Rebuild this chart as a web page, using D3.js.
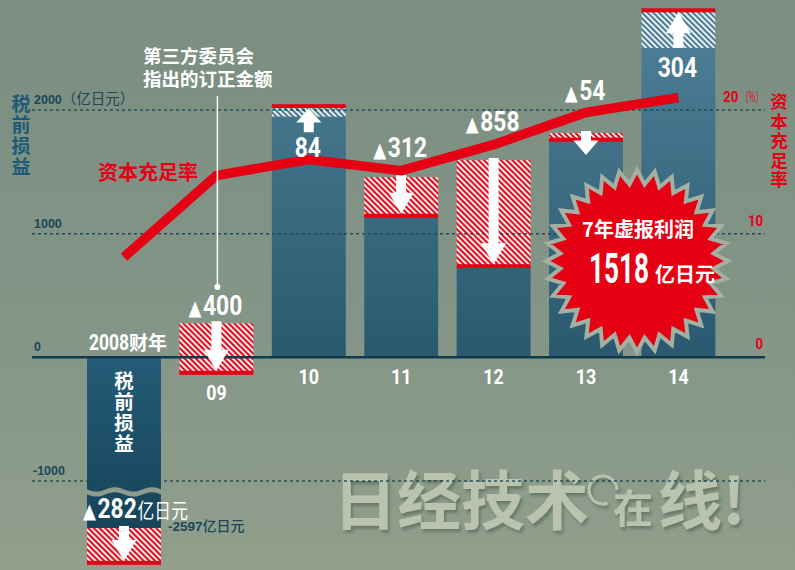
<!DOCTYPE html>
<html><head><meta charset="utf-8">
<script src="https://cdn.jsdelivr.net/npm/d3@7"></script>
<style>html,body{margin:0;padding:0;overflow:hidden;background:#85978a}</style>
</head><body><svg id="chart" width="795" height="570"></svg>
<script>
// ---------- data ----------
const categories = ["2008","09","10","11","12","13","14"];
const reportedProfit = [-2315, 275, 1947, 1457, 1595, 1814, 2502];   // 亿日元, as originally reported
const correctedProfit = [-2597, -125, 2031, 1145, 737, 1760, 2806];  // after third-party correction
const correctionLabels = ["▲282","▲400","84","▲312","▲858","▲54","304"];
const capitalRatio = [8.1, 14.7, 16.0, 15.1, 17.2, 19.8, 21.0];      // %
const leftTicks = [-1000, 0, 1000, 2000];
const rightTicks = [0, 10, 20];
const totalOverstated = "1518";
const firstYearLabel = "2008财年";
const axisBreakBelow = -1060, axisBreakHidden = 935;

// ---------- layout ----------
const NUM = "Roboto,'Liberation Sans',sans-serif";
const CJK = "'Noto Sans CJK SC','Noto Sans',sans-serif";
const RED = "#e60014";
const DARK = "#1b4757";
const svg = d3.select("#chart");
const defs = svg.append("defs");

const x = d3.scaleBand().domain(categories).range([77.8, 724.6]).paddingInner(0.2).paddingOuter(0.1);
const y = d3.scaleLinear().domain([-1000, 2000]).range([481, 110]);
const yR = d3.scaleLinear().domain([0, 20]).range([y(0), y(2000)]);
const disp = v => v < axisBreakBelow ? v + axisBreakHidden : v;
const bw = x.bandwidth();
const cx = c => x(c) + bw / 2;

function narrow(parent, px, py, sx, anchor) {
  return parent.append("g").attr("transform", `translate(${px},${py}) scale(${sx},1)`)
    .append("text").attr("text-anchor", anchor || "start");
}

// gradients & patterns
function lg(id, y1, y2, stops) {
  const g = defs.append("linearGradient").attr("id", id).attr("gradientUnits", "userSpaceOnUse")
    .attr("x1", 0).attr("x2", 0).attr("y1", y1).attr("y2", y2);
  stops.forEach(([o, c]) => g.append("stop").attr("offset", o).attr("stop-color", c));
}
lg("bg", 0, 570, [[0, "#7a8e81"], [0.55, "#839587"], [1, "#919f8c"]]);
lg("barGrad", 0, 357, [[0, "#508299"], [1, "#2a596f"]]);
lg("barGrad08", 357, 530, [[0, "#245b76"], [1, "#164459"]]);
function hatch(id, c1, c2) {
  const p = defs.append("pattern").attr("id", id).attr("patternUnits", "userSpaceOnUse")
    .attr("width", 4).attr("height", 4).attr("patternTransform", "rotate(-45)");
  p.append("rect").attr("width", 4).attr("height", 4).attr("fill", c2);
  p.append("rect").attr("width", 2).attr("height", 4).attr("fill", c1);
}
hatch("hatchRed", "#e8091f", "#f6ebe7");
hatch("hatchBlue", "#4a7c93", "#e8eef0");
const f = defs.append("filter").attr("id", "wmShadow").attr("x", "-10%").attr("y", "-10%").attr("width", "130%").attr("height", "130%");
f.append("feDropShadow").attr("dx", 2).attr("dy", 3).attr("stdDeviation", 1.6).attr("flood-color", "#3e4d42").attr("flood-opacity", 0.45);

// background
svg.append("rect").attr("width", 795).attr("height", 570).attr("fill", "url(#bg)");

// watermark
const WM = "#b9c3ae";
const wm = svg.append("g").attr("filter", "url(#wmShadow)").attr("fill", WM).attr("font-family", CJK).attr("font-weight", 700);
wm.append("text").attr("x", 333).attr("y", 524).attr("font-size", 64).text("日经技术");
const ring = d3.path();
ring.arc(603, 490, 14, 1.25, 2 * Math.PI, false);
wm.append("path").attr("d", ring.toString()).attr("fill", "none").attr("stroke", WM).attr("stroke-width", 3);
wm.append("text").attr("x", 613).attr("y", 523).attr("font-size", 40).text("在");
wm.append("text").attr("x", 658).attr("y", 524).attr("font-size", 64).text("线!");

// bars
const gBars = svg.append("g");
categories.forEach((c, i) => {
  const rep = reportedProfit[i], cor = correctedProfit[i];
  const r = disp(rep), k = disp(cor);
  const x0 = x(c);
  if (Math.sign(rep) === Math.sign(cor)) {
    const keep = Math.abs(rep) < Math.abs(cor) ? r : k;
    gBars.append("rect").attr("x", x0).attr("width", bw)
      .attr("y", Math.min(y(0), y(keep))).attr("height", Math.abs(y(keep) - y(0)))
      .attr("fill", i === 0 ? "url(#barGrad08)" : "url(#barGrad)");
  }
  gBars.append("rect").attr("x", x0).attr("width", bw)
    .attr("y", Math.min(y(r), y(k))).attr("height", Math.abs(y(r) - y(k)))
    .attr("fill", cor < rep ? "url(#hatchRed)" : "url(#hatchBlue)");
  gBars.append("rect").attr("x", x0).attr("width", bw).attr("y", y(k) - 2).attr("height", 4).attr("fill", RED);
});
// axis-break wave on the 2008 bar
(function () {
  const x0 = x(categories[0]), yb = y(axisBreakBelow) + 1, amp = 2.2, per = bw / 2;
  const pts = d3.range(0, bw + 0.5, 1).map(t => [x0 + t, yb + amp * Math.sin(2 * Math.PI * t / per)]);
  const top = pts.map(p => p.join(",")).join("L");
  const bot = pts.slice().reverse().map(p => [p[0], p[1] + 5].join(",")).join("L");
  gBars.append("path").attr("d", "M" + top + "L" + bot + "Z").attr("fill", "url(#bg)");
})();

// gridlines and baseline
const gGrid = svg.append("g");
leftTicks.filter(t => t !== 0).forEach(t => {
  gGrid.append("line").attr("x1", 32).attr("x2", 765).attr("y1", y(t)).attr("y2", y(t))
    .attr("stroke", DARK).attr("stroke-width", 1.5).attr("stroke-dasharray", "3,3").attr("opacity", 0.9);
});
gGrid.append("line").attr("x1", 32).attr("x2", 765).attr("y1", y(0)).attr("y2", y(0))
  .attr("stroke", "#10394a").attr("stroke-width", 2.5);

// arrows
function arrowPath(xc, tail, tip) {
  const dir = Math.sign(tip - tail), len = Math.abs(tip - tail);
  const head = Math.min(21, len * 0.6), hb = tip - dir * head;
  return `M${xc - 5},${tail}L${xc + 5},${tail}L${xc + 5},${hb}L${xc + 12.5},${hb}L${xc},${tip}L${xc - 12.5},${hb}L${xc - 5},${hb}Z`;
}
const gArr = svg.append("g").attr("fill", "#ffffff");
categories.forEach((c, i) => {
  const r = disp(reportedProfit[i]), k = disp(correctedProfit[i]);
  const down = k < r;
  let tail = down ? y(r) - 2 : y(r), tip = down ? y(k) - 2 : y(k) + 2;
  if (down && tip - tail < 24) tip = tail + 24;
  if (!down && tail - tip < 24) tail = tip + 24;
  gArr.append("path").attr("d", arrowPath(cx(c), tail, tip));
});

// capital ratio line
svg.append("path").datum(capitalRatio)
  .attr("d", d3.line().x((d, i) => cx(categories[i])).y(d => yR(d)))
  .attr("fill", "none").attr("stroke", RED).attr("stroke-width", 9.5).attr("stroke-linejoin", "miter");

// callout line for third-party committee
const cxo = cx(categories[1]) + 1;
svg.append("line").attr("x1", cxo).attr("x2", cxo).attr("y1", 96).attr("y2", 287).attr("stroke", "#fff").attr("stroke-width", 1.5);
svg.append("circle").attr("cx", cxo).attr("cy", 287).attr("r", 3).attr("fill", "#fff");
const tc = svg.append("text").attr("font-family", CJK).attr("font-weight", 700).attr("font-size", 18.5).attr("fill", "#fff");
tc.append("tspan").attr("x", 143).attr("y", 63).text("第三方委员会");
tc.append("tspan").attr("x", 143).attr("y", 86).text("指出的订正金额");

// correction labels
const labelDy = [-10, -8, 40, -20, -29, -33, 29];
categories.forEach((c, i) => {
  const r = disp(reportedProfit[i]);
  const lab = correctionLabels[i];
  const px = i === 0 ? x(c) - 4 : cx(c) - 1;
  const t = narrow(svg, px, y(r) + labelDy[i], 0.8, i === 0 ? "start" : "middle")
    .attr("fill", "#fff").attr("font-family", NUM).attr("font-weight", 700).attr("font-size", 28.5);
  if (lab.startsWith("▲")) {
    t.append("tspan").attr("font-family", "'DejaVu Sans',sans-serif").attr("font-size", 21).text("▲");
    t.append("tspan").attr("dx", 2).text(lab.slice(1));
  } else t.text(lab);
  if (i === 0) t.append("tspan").attr("font-family", CJK).attr("font-weight", 400).attr("font-size", 21).attr("dx", 1).text("亿日元");
});
svg.append("text").attr("x", 168).attr("y", 531).attr("fill", DARK).attr("font-family", "'Liberation Sans',Arial,sans-serif").attr("font-weight", 700).attr("font-size", 13.5)
  .text(correctedProfit[0]).append("tspan").attr("font-family", CJK).attr("font-weight", 500).attr("font-size", 14).text("亿日元");

// category labels
categories.forEach((c, i) => {
  if (i === 0) {
    const t = svg.append("text").attr("x", x(c) + 2).attr("y", y(0) - 7).attr("fill", "#fff").attr("font-weight", 700);
    t.append("tspan").attr("font-family", NUM).attr("font-size", 22).attr("textLength", 40).attr("lengthAdjust", "spacingAndGlyphs").text(firstYearLabel.slice(0, 4));
    t.append("tspan").attr("font-family", CJK).attr("font-size", 19).text(firstYearLabel.slice(4));
    "税前损益".split("").forEach((ch, j) => svg.append("text").attr("x", cx(c)).attr("y", 388 + j * 21)
      .attr("text-anchor", "middle").attr("fill", "#fff").attr("font-family", CJK).attr("font-weight", 700).attr("font-size", 19.5).text(ch));
  } else {
    const bottom = Math.max(y(0), y(correctedProfit[i]));
    narrow(svg, cx(c), bottom + 27, 0.85, "middle").attr("fill", "#fff")
      .attr("font-family", NUM).attr("font-weight", 700).attr("font-size", 21).text(c);
  }
});

// left axis
leftTicks.forEach(t => {
  const tx = svg.append("text").attr("x", t < 0 ? 33 : 34).attr("y", y(t) - 6).attr("fill", DARK)
    .attr("font-family", "'Liberation Sans',Arial,sans-serif").attr("font-weight", 700).attr("font-size", 12.5).text(t);
  if (t === 2000) tx.append("tspan").attr("font-family", CJK).attr("font-weight", 400).attr("font-size", 14.5).text("（亿日元）");
});
"税前损益".split("").forEach((ch, j) => svg.append("text").attr("x", 21).attr("y", 111 + j * 21).attr("text-anchor", "middle")
  .attr("fill", "#1d5a78").attr("font-family", CJK).attr("font-weight", 700).attr("font-size", 19).text(ch));
svg.append("text").attr("x", 98).attr("y", 180).attr("fill", RED).attr("font-family", CJK).attr("font-weight", 700).attr("font-size", 20).text("资本充足率");

// right axis
rightTicks.forEach(t => {
  const tx = narrow(svg, 763, yR(t) - 8, 0.85, "end").attr("fill", RED)
    .attr("font-family", NUM).attr("font-weight", 700).attr("font-size", 15.5).text(t);
  if (t === 20) tx.append("tspan").attr("font-family", CJK).attr("font-weight", 400).attr("font-size", 14).attr("dx", 3)
    .attr("textLength", 26).attr("lengthAdjust", "spacingAndGlyphs").text("（%）");
});
"资本充足率".split("").forEach((ch, j) => svg.append("text").attr("x", 779).attr("y", 108 + j * 19.5).attr("text-anchor", "middle")
  .attr("fill", RED).attr("font-family", CJK).attr("font-weight", 700).attr("font-size", 17.5).text(ch));

// starburst
(function () {
  const cxs = 637, cys = 261, N = 32, rO = 91, rI = 77;
  const pts = d3.range(2 * N).map(j => {
    const a = (j / (2 * N)) * 2 * Math.PI - Math.PI / 2;
    const rr = j % 2 === 0 ? rO : rI;
    return [cxs + rr * Math.cos(a), cys + rr * Math.sin(a)];
  });
  svg.append("path").attr("d", "M" + pts.map(p => p.join(",")).join("L") + "Z")
    .attr("fill", RED).attr("stroke", "#a3b0a2").attr("stroke-width", 4).attr("stroke-linejoin", "miter");
  svg.append("text").attr("x", 638).attr("y", 237).attr("text-anchor", "middle").attr("fill", "#fff")
    .attr("font-family", CJK).attr("font-weight", 700).attr("font-size", 20).text("7年虚报利润");
  svg.append("text").attr("x", 589).attr("y", 283).attr("fill", "#fff").attr("font-family", NUM).attr("font-weight", 700)
    .attr("font-size", 42).attr("textLength", 60).attr("lengthAdjust", "spacingAndGlyphs").text(totalOverstated);
  svg.append("text").attr("x", 655).attr("y", 282).attr("fill", "#fff").attr("font-family", CJK).attr("font-weight", 700)
    .attr("font-size", 20).text("亿日元");
})();
</script></body></html>
